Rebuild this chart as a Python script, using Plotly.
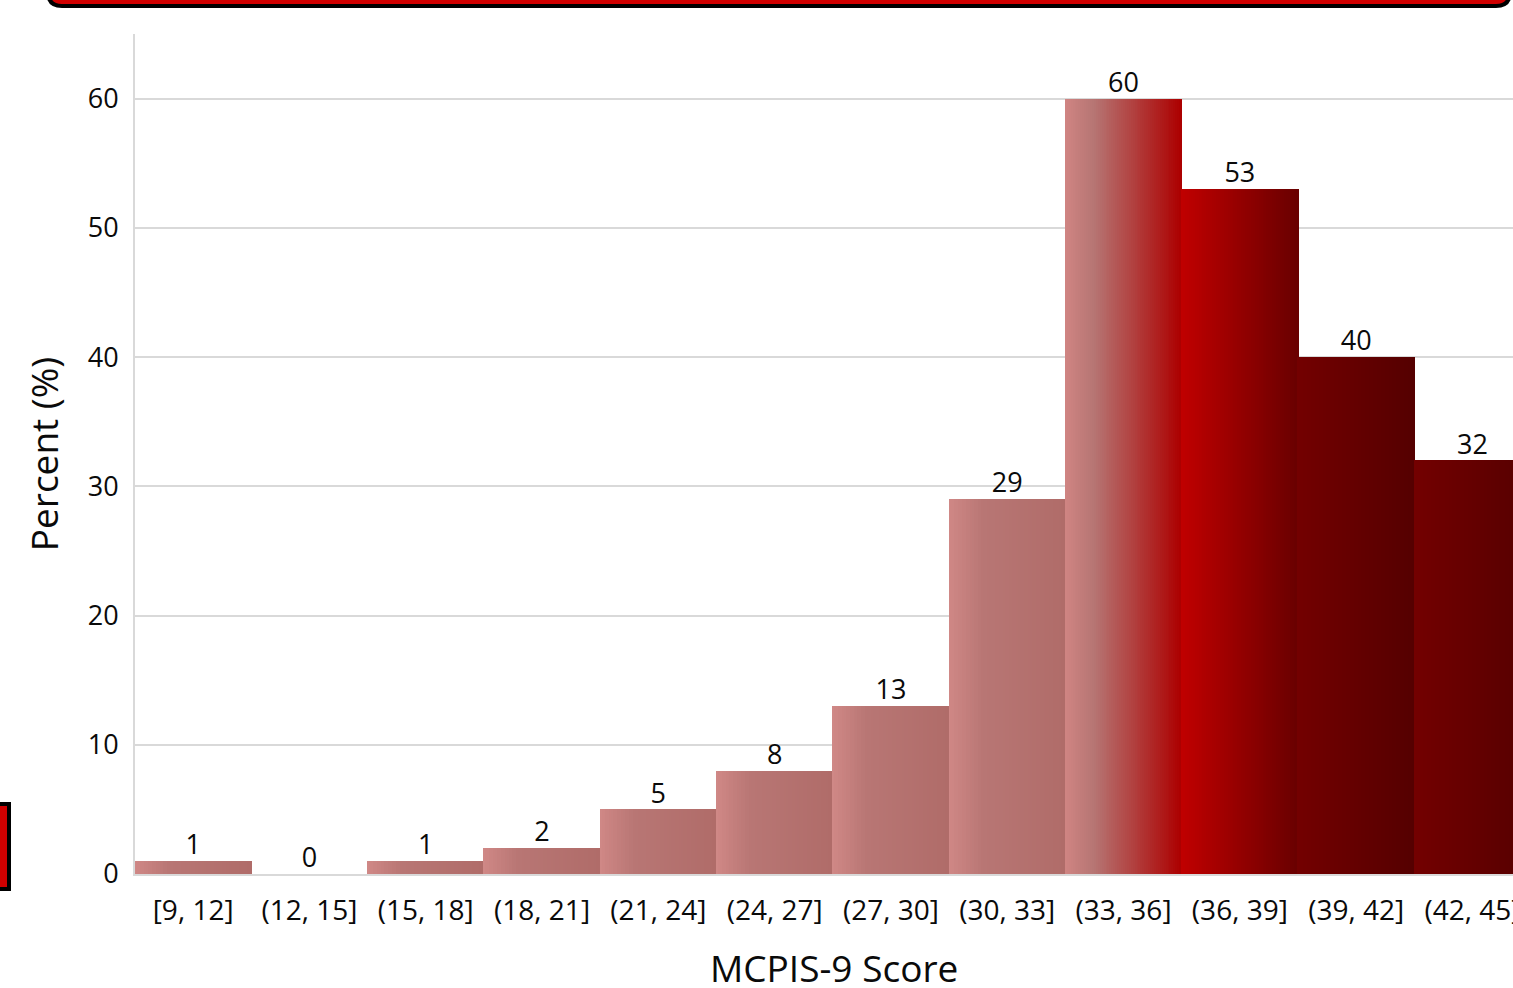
import plotly.graph_objects as go

# ---- data ----
categories = ["[9, 12]", "(12, 15]", "(15, 18]", "(18, 21]", "(21, 24]", "(24, 27]",
              "(27, 30]", "(30, 33]", "(33, 36]", "(36, 39]", "(39, 42]", "(42, 45]"]
percents = [1, 0, 1, 2, 5, 8, 13, 29, 60, 53, 40, 32]
y_ticks = [0, 10, 20, 30, 40, 50, 60]

# ---- styles: horizontal gradient stops per bar ----
pink = [(0.0, "#D08886"), (0.3, "#B87674"), (1.0, "#B06C69")]
grad_stops = [pink] * 8 + [
    [(0.0, "#D08583"), (0.25, "#B67573"), (1.0, "#AC0000")],
    [(0.0, "#C00000"), (1.0, "#690000")],
    [(0.0, "#730000"), (1.0, "#550000")],
    [(0.0, "#730000"), (1.0, "#560000")],
]


def hex2rgb(h):
    h = h.lstrip("#")
    return tuple(int(h[i:i + 2], 16) for i in (0, 2, 4))


def interp(stops, t):
    for (t0, c0), (t1, c1) in zip(stops[:-1], stops[1:]):
        if t <= t1:
            f = 0 if t1 == t0 else (t - t0) / (t1 - t0)
            a, b = hex2rgb(c0), hex2rgb(c1)
            return "rgb(%d,%d,%d)" % tuple(round(a[i] + (b[i] - a[i]) * f) for i in range(3))
    return "rgb(%d,%d,%d)" % hex2rgb(stops[-1][1])


N = 60
xs, ys, ws, cs = [], [], [], []
for i, v in enumerate(percents):
    for k in range(N):
        t = (k + 0.5) / N
        xs.append(i - 0.5 + t)
        ys.append(v)
        ws.append(1.0 / N * 1.6)
        cs.append(interp(grad_stops[i], t))

fig = go.Figure()
fig.add_trace(go.Bar(x=xs, y=ys, width=ws, marker=dict(color=cs, line=dict(width=0)),
                     hoverinfo="skip", showlegend=False))
fig.add_trace(go.Scatter(x=list(range(len(categories))), y=percents, mode="text",
                         text=[str(v) for v in percents], textposition="top center",
                         textfont=dict(family="Open Sans", size=27, color="#0a0a0a"),
                         showlegend=False, hoverinfo="skip"))

W, H = 1513, 988
L, R, T, B = 135, 0, 34, 114
pw, ph = W - L - R, H - T - B


def px(x):
    return (x - L) / pw


def py(y):
    return (H - B - y) / ph


# decorative frames (paper coordinates)
x0, x1, y0, y1, r = px(48), px(1510), py(-30), py(6), 14
rx, ry = r / pw, r / ph
top_path = (f"M {x0},{y0} L {x0},{y1 + ry} Q {x0},{y1} {x0 + rx},{y1} "
            f"L {x1 - rx},{y1} Q {x1},{y1} {x1},{y1 + ry} L {x1},{y0} Z")
fig.add_shape(type="path", path=top_path, xref="paper", yref="paper",
              fillcolor="#D00000", line=dict(color="black", width=4), layer="above")
fig.add_shape(type="rect", xref="paper", yref="paper", x0=px(-10), x1=px(9),
              y0=py(804), y1=py(889), fillcolor="#D00000",
              line=dict(color="black", width=4), layer="above")

# x-axis title as an annotation (centered where the original chart centres it)
fig.add_annotation(text="MCPIS-9 Score", xref="paper", yref="paper",
                   x=px(834), y=py(967), xanchor="center", yanchor="middle",
                   showarrow=False, font=dict(size=37, color="#0a0a0a"))

fig.update_layout(
    width=W, height=H,
    margin=dict(l=L, r=R, t=T, b=B, autoexpand=False),
    paper_bgcolor="white", plot_bgcolor="white",
    bargap=0, barmode="overlay",
    font=dict(family="Open Sans", color="#0a0a0a"),
    xaxis=dict(
        range=[-0.5, -0.5 + pw / 116.3],
        tickvals=list(range(len(categories))), ticktext=categories,
        tickfont=dict(size=28, color="#0a0a0a"),
        ticklabeloverflow="allow",
        showgrid=False, showline=True, linecolor="#D9D9D9", linewidth=2,
        ticks="", ticklabelstandoff=10,
        fixedrange=True,
    ),
    yaxis=dict(
        range=[0, 65], tickvals=y_ticks,
        tickfont=dict(size=27, color="#0a0a0a"),
        showgrid=True, gridcolor="#D9D9D9", gridwidth=2,
        showline=True, linecolor="#D9D9D9", linewidth=2,
        zeroline=False, ticks="", ticklabelstandoff=9,
        title=dict(text="Percent (%)", font=dict(size=37, color="#0a0a0a"), standoff=18),
        fixedrange=True,
    ),
)

fig.write_html("out.html", config={"displayModeBar": False})
